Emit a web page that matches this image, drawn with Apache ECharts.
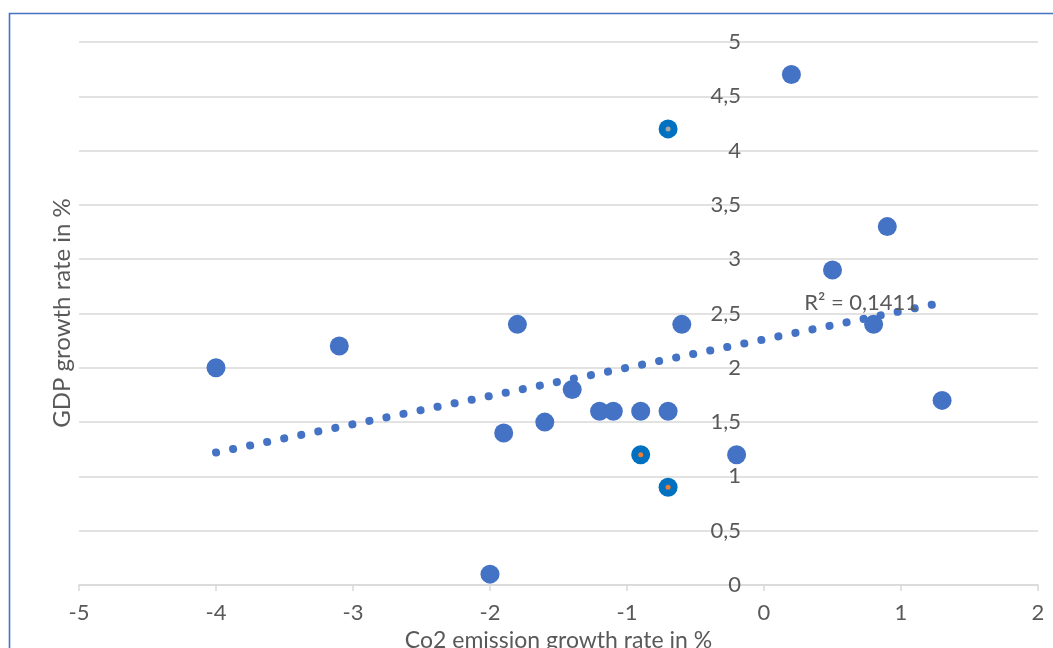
<!DOCTYPE html>
<html><head><meta charset="utf-8">
<script src="https://cdn.jsdelivr.net/npm/echarts@6/dist/echarts.min.js"></script>
<style>html,body{margin:0;padding:0;background:#fff}#c{width:1053px;height:648px}</style>
</head><body><div id="c"></div>
<script>
// ---- data ----
const mainX = [0.2, 0.9, 0.5, 0.8, -0.6, -1.8, -3.1, -4.0, -1.4, 1.3, -1.2, -1.1, -0.9, -0.7, -1.6, -1.9, -0.2, -2.0];
const mainY = [4.7, 3.3, 2.9, 2.4, 2.4, 2.4, 2.2, 2.0, 1.8, 1.7, 1.6, 1.6, 1.6, 1.6, 1.5, 1.4, 1.2, 0.1];
const highX = [-0.7, -0.9, -0.7];
const highY = [4.2, 1.2, 0.9];
const orangeX = [-0.9, -0.7];
const orangeY = [1.2, 0.9];
const greyX = [-0.7];
const greyY = [4.2];
const trendX = [-4.0, 1.3];
const trendY = [1.22, 2.60];
const r2Text = 'R² = 0,1411';
const xTitle = 'Co2 emission growth rate in %';
const yTitle = 'GDP growth rate in %';
const yAxisCross = 0; // y axis crosses the x axis at x = 0

const FONT = 'Lato';
const TXT = '#595959';
const GRID = '#d9d9d9';
const pairs = (xs, ys) => xs.map((x, i) => [x, ys[i]]);

const chart = echarts.init(document.getElementById('c'));
chart.setOption({
  animation: false,
  backgroundColor: '#fff',
  textStyle: { fontFamily: FONT },
  grid: { left: 79, right: 15, top: 42, bottom: 63, containLabel: false, outerBoundsMode: 'none' },
  xAxis: {
    type: 'value', min: -5, max: 2, interval: 1,
    name: xTitle, nameLocation: 'middle', nameGap: 36,
    nameTextStyle: { color: TXT, fontSize: 23, fontFamily: FONT },
    axisLine: { onZero: true, lineStyle: { color: GRID, width: 1.5 } },
    axisTick: { show: true, length: 6, lineStyle: { color: GRID, width: 1.5 } },
    axisLabel: { color: TXT, fontSize: 22, margin: 17, fontFamily: FONT },
    splitLine: { show: false }
  },
  yAxis: {
    type: 'value', min: 0, max: 5, interval: 0.5,
    axisLine: { show: false, onZero: false },
    axisTick: { show: false },
    axisLabel: { color: TXT, fontSize: 22, margin: 23, fontFamily: FONT,
      formatter: v => String(v).replace('.', ',') },
    splitLine: { show: true, lineStyle: { color: GRID, width: 1.5 } }
  },
  series: [
    { type: 'scatter', data: pairs(mainX, mainY), symbolSize: 19,
      itemStyle: { color: '#4472C4', opacity: 1 }, z: 3 },
    { type: 'scatter', data: pairs(highX, highY), symbolSize: 19,
      itemStyle: { color: '#0070C0', opacity: 1 }, z: 3 },
    { type: 'scatter', data: pairs(orangeX, orangeY), symbolSize: 5,
      itemStyle: { color: '#ED7D31', opacity: 1 }, z: 4 },
    { type: 'scatter', data: pairs(greyX, greyY), symbolSize: 5,
      itemStyle: { color: '#A5A5A5', opacity: 1 }, z: 4 },
    { type: 'line', data: pairs(trendX, trendY), showSymbol: false, symbol: 'none',
      lineStyle: { color: '#4472C4', width: 8, type: [0.1, 17.3], cap: 'round', opacity: 1 }, z: 5 }
  ],
  graphic: [
    { type: 'rect', shape: { x: 9.5, y: 13.5, width: 1200, height: 800 },
      style: { fill: 'none', stroke: '#4472C4', lineWidth: 1.6 }, silent: true },
    { type: 'text', x: 62, y: 313, rotation: Math.PI / 2,
      style: { text: yTitle, fill: TXT, fontSize: 24, fontFamily: FONT, align: 'center', verticalAlign: 'middle' } }
  ]
});
// move the y-axis labels next to x = 0 (where the y axis crosses), via the axis scale
const crossPx = chart.convertToPixel({ xAxisIndex: 0 }, yAxisCross);
const leftPx = chart.convertToPixel({ xAxisIndex: 0 }, -5);
// R² label placed relative to the trendline end through the axis scale
const endPx = chart.convertToPixel({ gridIndex: 0 }, [trendX[1], trendY[1]]);
chart.setOption({
  yAxis: { axisLabel: { margin: 23 - (crossPx - leftPx) } },
  graphic: [{}, {}, {
    type: 'text', x: endPx[0] - 24, y: endPx[1], z: 10,
    style: { text: r2Text, fill: TXT, fontSize: 22, fontFamily: FONT, align: 'right', verticalAlign: 'middle' }
  }]
});
</script></body></html>
